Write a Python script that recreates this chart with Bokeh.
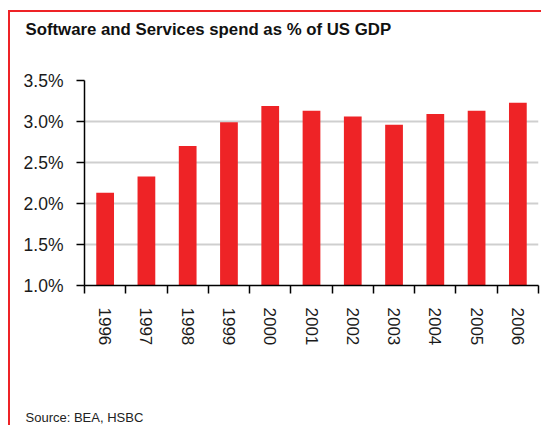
import numpy as np
from bokeh.plotting import figure
from bokeh.models import Range1d, FixedTicker, PrintfTickFormatter, Title
from bokeh.embed import file_html
from bokeh.resources import INLINE

years = ["1996", "1997", "1998", "1999", "2000", "2001", "2002", "2003", "2004", "2005", "2006"]
spend_pct = [2.13, 2.33, 2.70, 2.99, 3.19, 3.13, 3.06, 2.96, 3.09, 3.13, 3.23]
y_ticks = [1.0, 1.5, 2.0, 2.5, 3.0, 3.5]
title_text = "Software and Services spend as % of US GDP"
source_text = "Source: BEA, HSBC"

RED = "#EE2326"
FONT = "Liberation Sans"
n = len(years)
xs = np.arange(n) + 0.5

p = figure(width=533, height=415, output_backend="svg", toolbar_location=None,
           x_range=Range1d(0, n), y_range=Range1d(1.0, 3.5),
           min_border_left=74, min_border_right=5, min_border_top=68, min_border_bottom=142)
p.styles = {"border-left": f"2px solid {RED}", "border-top": f"2px solid {RED}",
            "margin-top": "10px", "margin-left": "8px"}

# spacer between frame and title
p.add_layout(Title(text=" ", text_font_size="1px", standoff=34), "above")

p.title.text = title_text
p.title.align = "left"
p.title.offset = -59
p.title.text_font = FONT
p.title.text_font_size = "16.8px"
p.title.text_font_style = "bold"
p.title.text_color = "#111111"
p.title.standoff = 10

# spacer between axis and source note
p.add_layout(Title(text=" ", text_font_size="1px", standoff=56), "below")
p.add_layout(Title(text=source_text, align="left", offset=-59, text_font=FONT,
                   text_font_size="13px", text_font_style="normal", text_color="#222222",
                   standoff=0), "below")

p.vbar(x=xs, top=spend_pct, bottom=y_ticks[0], width=0.43, color=RED, line_color=None)

p.outline_line_color = None
p.xgrid.visible = False
p.ygrid.ticker = FixedTicker(ticks=y_ticks)
p.ygrid.grid_line_color = "#cfcfcf"
p.ygrid.grid_line_width = 2

ya = p.yaxis[0]
ya.ticker = FixedTicker(ticks=y_ticks)
ya.formatter = PrintfTickFormatter(format="%.1f%%")
ya.major_tick_out = 8
ya.major_tick_in = 0
ya.minor_tick_line_color = None
ya.axis_line_color = "black"
ya.axis_line_width = 1.5
ya.major_tick_line_width = 1.5
ya.major_tick_line_color = "black"
ya.major_label_standoff = 13
ya.major_label_text_font = FONT
ya.major_label_text_font_size = "17.5px"
ya.major_label_text_color = "#1a1a1a"

xa = p.xaxis[0]
xa.ticker = FixedTicker(ticks=list(xs), minor_ticks=list(range(n + 1)))
xa.major_label_overrides = {float(x): y for x, y in zip(xs, years)}
xa.major_tick_out = 8
xa.major_tick_in = 0
xa.major_tick_line_color = None
xa.minor_tick_out = 8
xa.minor_tick_in = 0
xa.minor_tick_line_color = "black"
xa.minor_tick_line_width = 1.5
xa.axis_line_color = "black"
xa.axis_line_width = 1.5
xa.major_label_orientation = "vertical"
xa.major_label_standoff = 14
xa.major_label_text_font = FONT
xa.major_label_text_font_size = "17px"
xa.major_label_text_color = "#1a1a1a"

open("out.html", "w").write(file_html(p, INLINE))
